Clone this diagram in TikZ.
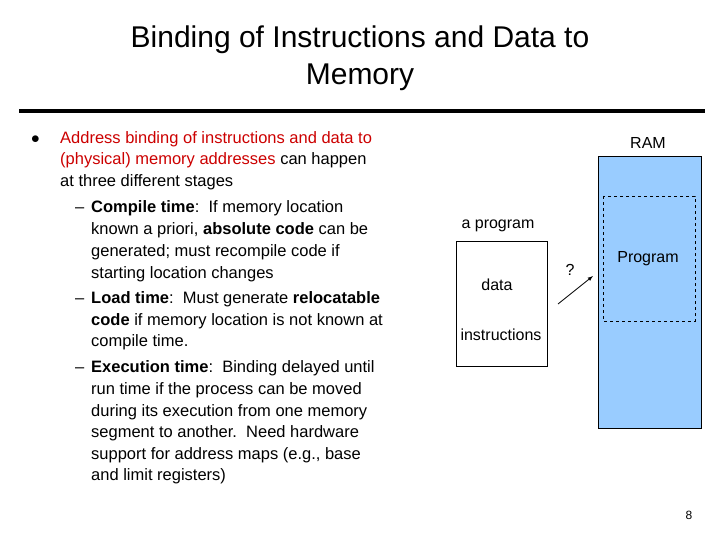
\documentclass[tikz,border=0pt]{standalone}
\usepackage{fontspec}
\setmainfont{Liberation Sans}
\definecolor{ramblue}{RGB}{153, 204, 255}
\definecolor{redtext}{RGB}{204, 0, 0}

\tikzset{
  txt/.style={anchor=base west, inner sep=0pt, font=\fontsize{16.5}{20}\selectfont},
  ttl/.style={inner sep=0pt, font=\fontsize{30}{34}\selectfont},
  lbl/.style={inner sep=0pt, font=\fontsize{16}{19}\selectfont},
}

\begin{document}
\begin{tikzpicture}[x=1pt, y=-1pt]
  \useasboundingbox (0,0) rectangle (720,540);
  % title
  \node[ttl] (title1) at (360,40) {Binding of Instructions and Data to};
  \node[ttl] (title2) at (360,77) {Memory};
  \draw[line width=3.5pt] (19,111) -- (705,111);

  % bullet text
  \node[txt] (bul) at (31,144) {$\bullet$};
  \node[txt, text=redtext] (l1) at (60,144) {Address binding of instructions and data to};
  \node[txt] (l2) at (60,165) {\textcolor{redtext}{(physical) memory addresses} can happen};
  \node[txt] (l3) at (60,187) {at three different stages};
  \node[txt] (d1) at (75,213) {--};
  \node[txt] (l4) at (91,213) {\textbf{Compile time}:\ \ If memory location};
  \node[txt] (l5) at (91,234) {known a priori, \textbf{absolute code} can be};
  \node[txt] (l6) at (91,256) {generated; must recompile code if};
  \node[txt] (l7) at (91,278) {starting location changes};
  \node[txt] (d2) at (75,303) {--};
  \node[txt] (l8) at (91,303) {\textbf{Load time}:\ \ Must generate \textbf{relocatable}};
  \node[txt] (l9) at (91,325) {\textbf{code} if memory location is not known at};
  \node[txt] (l10) at (91,346) {compile time.};
  \node[txt] (d3) at (75,372) {--};
  \node[txt] (l11) at (91,372) {\textbf{Execution time}:\ \ Binding delayed until};
  \node[txt] (l12) at (91,394) {run time if the process can be moved};
  \node[txt] (l13) at (91,416) {during its execution from one memory};
  \node[txt] (l14) at (91,437) {segment to another.\ \ Need hardware};
  \node[txt] (l15) at (91,459) {support for address maps (e.g., base};
  \node[txt] (l16) at (91,480) {and limit registers)};

  % program and RAM
  \draw[fill=ramblue] (598,156) rectangle (701,428);
  \draw[dashed] (603,196) rectangle (695,321);
  \draw (456,241) rectangle (547,366);
  \node[lbl] (ram) at (648,143) {RAM};
  \node[lbl] (prog) at (648,259) {Program};
  \node[lbl] (aprog) at (498,226) {a program};
  \node[lbl] (data) at (497,285) {data};
  \node[lbl] (instr) at (501,335) {instructions};
  \node[lbl] (q) at (570,270) {?};
  \coordinate (from) at (558,304);
  \coordinate (to) at (593,276);
  \draw[thick, -latex] (from) -- (to);

  \node[inner sep=0pt, font=\fontsize{12}{14}\selectfont] (pg) at (689,515) {8};
\end{tikzpicture}
\end{document}
